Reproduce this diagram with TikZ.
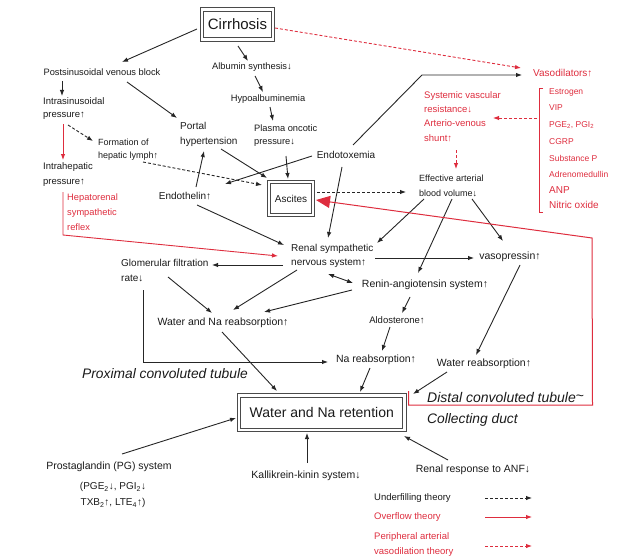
\documentclass[tikz,border=0pt]{standalone}
\usepackage{fontspec}
\setmainfont{Liberation Sans}
\usetikzlibrary{arrows.meta,calc}
\definecolor{txt}{HTML}{1A1A1A}
\definecolor{rd}{RGB}{222,45,62}
\definecolor{bx}{HTML}{4A4A4A}
\begin{document}
\begin{tikzpicture}[x=1pt,y=-1pt,
  every node/.style={inner sep=1pt, text=txt},
  fs/.style 2 args={font=\fontsize{#1}{#2}\selectfont},
  ml/.style={anchor=west, align=left},
  rtext/.style={text=rd},
  arr/.style={-{Latex[length=6pt,width=4.5pt]}, line width=0.9pt, draw=black!85},
  darr/.style={arr, dash pattern=on 3pt off 2pt},
  rarr/.style={-{Latex[length=6pt,width=4.5pt]}, line width=0.9pt, draw=rd},
  rdarr/.style={rarr, dash pattern=on 3pt off 2pt},
  dbox/.style={draw=bx, double=white, double distance=2.6pt, line width=1pt, inner sep=0pt},
]
\useasboundingbox (0,0) rectangle (618,559);

% ---------- nodes ----------
\node[dbox, minimum width=71pt, minimum height=30pt, fs={15}{18}] (cir) at (237.5,24.5) {Cirrhosis};
\node[fs={9.3}{11}] (post) at (102,72) {Postsinusoidal venous block};
\node[fs={9.3}{11}] (alb) at (252,67) {Albumin synthesis↓};
\node[fs={9.3}{11}] (hypo) at (268,99) {Hypoalbuminemia};
\node[ml, fs={9.5}{13}] (intra) at (42,108.5) {Intrasinusoidal\\pressure↑};
\node[ml, fs={9}{13}] (form) at (97,149.5) {Formation of\\hepatic lymph↑};
\node[ml, fs={10}{15}] (portal) at (179,134.5) {Portal\\hypertension};
\node[ml, fs={9.3}{13}] (plasma) at (253,136) {Plasma oncotic\\pressure↓};
\node[fs={10}{12}] (endotox) at (346,155) {Endotoxemia};
\node[ml, fs={9.5}{14.5}] (intrah) at (42,174.5) {Intrahepatic\\pressure↑};
\node[ml, rtext, fs={9.3}{15}] (hepref) at (66,212) {Hepatorenal\\sympathetic\\reflex};
\node[fs={10}{12}] (endoth) at (185,196) {Endothelin↑};
\node[dbox, minimum width=44pt, minimum height=33pt, fs={10}{12}] (asc) at (291,198.5) {Ascites};
\node[ml, fs={9}{15}] (eff) at (418,185.5) {Effective arterial\\blood volume↓};
\node[ml, rtext, fs={9.5}{14.3}] (sys) at (423,116.5) {Systemic vascular\\resistance↓\\Arterio-venous\\shunt↑};
\node[anchor=west, rtext, fs={10}{12}] (vaso) at (532,73) {Vasodilators↑};
\node[anchor=west, rtext, fs={8.5}{10}] (l1) at (548,92) {Estrogen};
\node[anchor=west, rtext, fs={8.5}{10}] (l2) at (548,108) {VIP};
\node[anchor=west, rtext, fs={8.5}{10}] (l3) at (548,125) {PGE\textsubscript{2}, PGI\textsubscript{2}};
\node[anchor=west, rtext, fs={8.5}{10}] (l4) at (548,142) {CGRP};
\node[anchor=west, rtext, fs={8.5}{10}] (l5) at (548,158) {Substance P};
\node[anchor=west, rtext, fs={8.5}{10}] (l6) at (548,174) {Adrenomedullin};
\node[anchor=west, rtext, fs={10}{12}] (l7) at (548,190) {ANP};
\node[anchor=west, rtext, fs={10}{12}] (l8) at (548,205) {Nitric oxide};
\node[ml, fs={10}{14}] (renal) at (290,256) {Renal sympathetic\\nervous system↑};
\node[ml, fs={10}{15}] (glom) at (120,270.5) {Glomerular filtration\\rate↓};
\node[fs={10.5}{12}] (vasop) at (510,257) {vasopressin↑};
\node[fs={10.5}{12}] (renin) at (425,285) {Renin-angiotensin system↑};
\node[fs={10.5}{12}] (wnreab) at (223,323) {Water and Na reabsorption↑};
\node[fs={9.5}{12}] (ald) at (397,320) {Aldosterone↑};
\node[fs={10.5}{12}] (nareab) at (376,360) {Na reabsorption↑};
\node[fs={10.5}{12}] (wreab) at (484,364) {Water reabsorption↑};
\node[fs={13.8}{16}] (prox) at (165,374) {\itshape Proximal convoluted tubule};
\node[anchor=west, fs={14}{16}] (distal) at (426,397) {\itshape Distal convoluted tubule\raisebox{2pt}{\upshape\textasciitilde}};
\node[anchor=west, fs={13.8}{16}] (coll) at (426,420) {\itshape Collecting duct};
\node[dbox, minimum width=165.5pt, minimum height=34.5pt, fs={14}{16}] (water) at (321.75,412.75) {Water and Na retention};
\node[fs={10.5}{12}] (pg) at (109,467) {Prostaglandin (PG) system};
\node[align=center, fs={10}{16}] (pgsub) at (113,495) {(PGE\textsubscript{2}↓, PGI\textsubscript{2}↓\\TXB\textsubscript{2}↑, LTE\textsubscript{4}↑)};
\node[fs={10.5}{12}] (kal) at (306,476) {Kallikrein-kinin system↓};
\node[fs={10.5}{12}] (anf) at (473,470) {Renal response to ANF↓};
\node[anchor=west, fs={9.5}{12}] (lg1) at (373,498) {Underfilling theory};
\node[anchor=west, rtext, fs={9.5}{12}] (lg2) at (373,517) {Overflow theory};
\node[ml, rtext, fs={9.5}{15}] (lg3) at (373,544.5) {Peripheral arterial\\vasodilation theory};

% ---------- connectors ----------
\draw[arr] ([shift={(-40.5,4.5)}]cir.center) -- ([shift={(20,-10)}]post.center);
\draw[arr] ([shift={(0.5,21.5)}]cir.center) -- ([shift={(-4,-6)}]alb.center);
\draw[arr] ([shift={(3,9)}]alb.center) -- ([shift={(-5,-7)}]hypo.center);
\draw[arr] ([shift={(2,8)}]hypo.center) -- ([shift={(20,-15)}]plasma.west);
\draw[arr] ([shift={(-40,9)}]post.center) -- ([shift={(20,-12.5)}]intra.west);
\draw[arr] ([shift={(25,10)}]post.center) -- ([shift={(-2,-16.5)}]portal.west);
\draw[darr] ([shift={(26,16.5)}]intra.west) -- ([shift={(-4,-8.5)}]form.west);
\draw[rarr] ([shift={(21,15.5)}]intra.west) -- ([shift={(21,-14.5)}]intrah.west);
\draw[darr] ([shift={(46,12.5)}]form.west) -- ([shift={(-29,-13.5)}]asc.center);
\draw[arr] ([shift={(42,14.5)}]portal.west) -- ([shift={(-24,-20.5)}]asc.center);
\draw[arr] ([shift={(-34,1)}]endotox.center) -- ([shift={(40,-12)}]endoth.center);
\draw[arr] ([shift={(33,20)}]plasma.west) -- ([shift={(-3,-19.5)}]asc.center);
\draw[arr] ([shift={(11,-9)}]endoth.center) -- ([shift={(25,16.5)}]portal.west);
\draw[arr] ([shift={(12,9)}]endoth.center) -- ([shift={(-6,-11)}]renal.west);
\draw[arr] ([shift={(7,-10)}]endotox.center) -- ([shift={(-110,2)}]vaso.west) -- ([shift={(-10,2)}]vaso.west);
\draw[arr] ([shift={(-4,12)}]endotox.center) -- ([shift={(38,-18)}]renal.west);
\draw[rdarr] ([shift={(37.5,3.5)}]cir.center) -- ([shift={(-11,-5)}]vaso.west);
\draw[rd, line width=0.8pt] ([shift={(-5,-4)}]l1.west) -- ([shift={(-9,-4)}]l1.west) -- ([shift={(-9,7)}]l8.west) -- ([shift={(-5,7)}]l8.west);
\draw[rdarr] ([shift={(-11,26)}]l1.west) -- ([shift={(70,1.5)}]sys.west);
\draw[rdarr] ([shift={(33,33.5)}]sys.west) -- ([shift={(38,-16.5)}]eff.west);
\draw[darr] ([shift={(26,-6.5)}]asc.center) -- ([shift={(-12,6.5)}]eff.west);
\draw[arr] ([shift={(6,13.5)}]eff.west) -- ([shift={(87,-13)}]renal.west);
\draw[arr] ([shift={(34,13.5)}]eff.west) -- ([shift={(-7,-12)}]renin.center);
\draw[arr] ([shift={(54,13.5)}]eff.west) -- ([shift={(-7,-16)}]vasop.center);
\draw[rd, line width=1pt, -{Triangle[length=14pt,width=12pt]}] ([shift={(3.5,-21.75)}]water.east) -- ([shift={(3.5,-7.75)}]water.east) -- ([shift={(187.5,-7.75)}]water.east) -- ([shift={(301,39.5)}]asc.center) -- ([shift={(25,1.5)}]asc.center);
\draw[rarr] ([shift={(21,17.5)}]intrah.west) -- ([shift={(-3,23)}]hepref.west) -- ([shift={(-12,0)}]renal.west);
\draw[arr] ([shift={(-7,9)}]renal.west) -- ([shift={(92,-5.5)}]glom.west);
\draw[arr] ([shift={(85,2)}]renal.west) -- ([shift={(-36,1)}]vasop.center);
\draw[arr, {Latex[length=6pt,width=4.5pt]}-{Latex[length=6pt,width=4.5pt]}] ([shift={(38,18)}]renal.west) -- ([shift={(-72,-2)}]renin.center);
\draw[arr] ([shift={(-73,5)}]renin.center) -- ([shift={(41,-11)}]wnreab.center);
\draw[arr] ([shift={(7,14)}]renal.west) -- ([shift={(10,-13)}]wnreab.center);
\draw[arr] ([shift={(48,6.5)}]glom.west) -- ([shift={(-11,-10)}]wnreab.center);
\draw[arr] ([shift={(23,19.5)}]glom.west) -- ([shift={(-233,2)}]nareab.center) -- ([shift={(-48,2)}]nareab.center);
\draw[arr] ([shift={(-1,9)}]wnreab.center) -- ([shift={(-44.75,-21.75)}]water.center);
\draw[arr] ([shift={(-15,12)}]renin.center) -- ([shift={(5,-7)}]ald.center);
\draw[arr] ([shift={(-7,7)}]ald.center) -- ([shift={(6,-9)}]nareab.center);
\draw[arr] ([shift={(-6,8)}]nareab.center) -- ([shift={(38.25,-20.75)}]water.center);
\draw[arr] ([shift={(10,8)}]vasop.center) -- ([shift={(-8,-9)}]wreab.center);
\draw[arr] ([shift={(-37,8)}]wreab.center) -- ([shift={(91.25,-18.75)}]water.center);
\draw[arr] ([shift={(13,-13)}]pg.center) -- ([shift={(-85.75,5.25)}]water.center);
\draw[arr] ([shift={(1,-13)}]kal.center) -- ([shift={(-14.75,20.25)}]water.center);
\draw[arr] ([shift={(-25,-10)}]anf.center) -- ([shift={(82.25,23.25)}]water.center);
% legend
\draw[darr] ([shift={(112,0)}]lg1.west) -- ([shift={(159,0)}]lg1.west);
\draw[rarr] ([shift={(112,0)}]lg2.west) -- ([shift={(159,0)}]lg2.west);
\draw[rdarr] ([shift={(112,1.5)}]lg3.west) -- ([shift={(159,1.5)}]lg3.west);
\end{tikzpicture}
\end{document}
